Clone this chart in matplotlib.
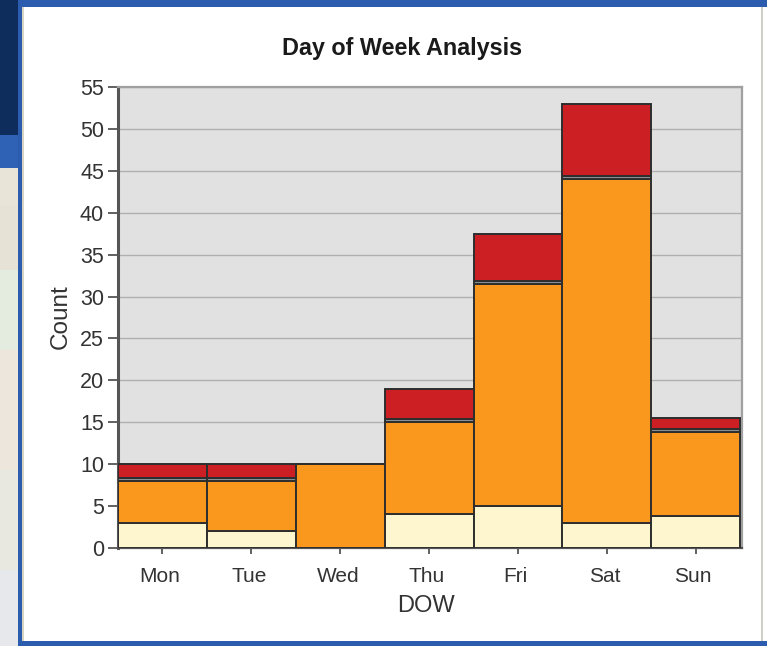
import numpy as np
import matplotlib
matplotlib.use('Agg')
import matplotlib.pyplot as plt
from matplotlib.patches import Rectangle
from matplotlib.transforms import ScaledTranslation

plt.rcParams['font.family'] = ['Liberation Sans', 'DejaVu Sans']

# values
days = ['Mon', 'Tue', 'Wed', 'Thu', 'Fri', 'Sat', 'Sun']
cream = [3, 2, 0, 4, 5, 3, 3.8]
orange = [5, 6, 10, 11, 26.5, 41, 10]
grey_band = [0.4, 0.4, 0, 0.4, 0.4, 0.4, 0.4]
red = [1.6, 1.6, 0, 3.6, 5.6, 8.6, 1.3]
y_ticks = list(range(0, 60, 5))

W, H = 767, 646
fig = plt.figure(figsize=(W / 100, H / 100), dpi=100, facecolor='white')


def px_rect(x0, y0, x1, y1, color):
    # rectangle in screenshot pixels, y going down
    fig.add_artist(Rectangle((x0 / W, 1 - y1 / H), (x1 - x0) / W, (y1 - y0) / H,
                             transform=fig.transFigure, facecolor=color,
                             edgecolor='none', zorder=-5))


# screenshot behind the dialog
px_rect(0, 0, 18, 135, '#0e2c5c')
px_rect(0, 135, 18, 168, '#2f62b4')
px_rect(0, 168, 18, 205, '#e8e4d8')
px_rect(0, 205, 18, 270, '#e6e2d6')
px_rect(0, 270, 18, 350, '#e4ece0')
px_rect(0, 350, 18, 470, '#ece6dc')
px_rect(0, 470, 18, 570, '#e8e8e0')
px_rect(0, 570, 18, 646, '#e6e8ec')
# dialog frame
px_rect(18, 0, 767, 7, '#2c5cae')
px_rect(18, 0, 22, 646, '#2c5cae')
px_rect(18, 641, 767, 646, '#2c5cae')
px_rect(22, 7, 24, 641, '#d8d4c4')
px_rect(761, 7, 763, 641, '#cfcfc8')

ax = fig.add_axes([118 / W, 1 - 548 / H, (742 - 118) / W, (548 - 87) / H])
ax.set_facecolor('#e1e1e1')

x = np.arange(7) + 0.5
bottom = np.zeros(7)
for vals, col in [(cream, '#fdf6cf'), (orange, '#f9981d'), (grey_band, '#8a8f96'), (red, '#cc1f24')]:
    vals = np.array(vals)
    ax.bar(x, vals, 1.0, bottom=bottom, color=col, edgecolor='#2e2e2e', linewidth=1.4, zorder=3)
    bottom = bottom + vals

ax.set_xlim(0, 7.02)
ax.set_ylim(0, 55)
ax.set_yticks(y_ticks)
ax.set_xticks(x)
ax.set_xticklabels(days)
ax.grid(axis='y', color='#b0b0b0', linewidth=1.0, zorder=1)
ax.set_axisbelow(True)

ax.spines['left'].set_color('#555555')
ax.spines['left'].set_linewidth(2.2)
ax.spines['bottom'].set_color('#555555')
ax.spines['bottom'].set_linewidth(1.6)
ax.spines['top'].set_color('#a0a0a0')
ax.spines['top'].set_linewidth(1.6)
ax.spines['right'].set_color('#a0a0a0')
ax.spines['right'].set_linewidth(1.6)
ax.tick_params(axis='y', length=7, width=1.3, color='#555555', labelsize=15.5, labelcolor='#333333', pad=3)
ax.tick_params(axis='x', length=4, width=1.3, color='#555555', labelsize=15, labelcolor='#333333', pad=10)

# labels sit a little left of their ticks in the original
shift = ScaledTranslation(-2.5 / 100, 0, fig.dpi_scale_trans)
for lab in ax.get_xticklabels():
    lab.set_transform(lab.get_transform() + shift)

ax.set_xlabel('DOW', fontsize=17, color='#333333', labelpad=4)
ax.xaxis.set_label_coords((426 - 118) / (742 - 118), -(595 - 548) / (548 - 87), transform=ax.transAxes)
ax.set_ylabel('Count', fontsize=17.5, color='#333333')
ax.yaxis.set_label_coords(-(118 - 72) / (742 - 118), (548 - 317) / (548 - 87), transform=ax.transAxes)
fig.text(402 / W, 1 - 49 / H, 'Day of Week Analysis', fontsize=16.8, fontweight='bold',
         color='#1a1a1a', ha='center', va='center')

fig.savefig('out.png', dpi=100)
